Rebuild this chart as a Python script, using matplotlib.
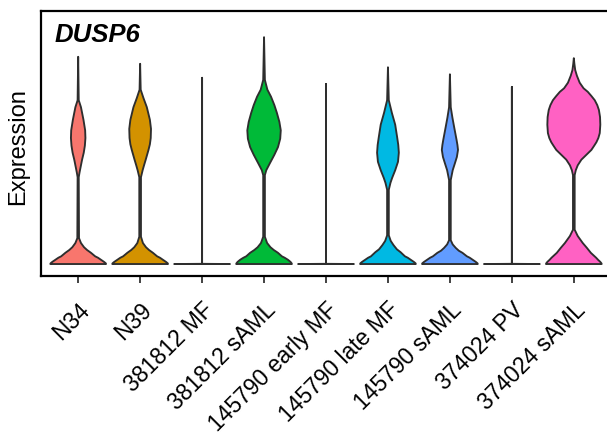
import matplotlib
matplotlib.use('Agg')
import matplotlib.pyplot as plt

plt.rcParams['font.family'] = ['Liberation Sans', 'DejaVu Sans']

samples = ['N34', 'N39', '381812 MF', '381812 sAML', '145790 early MF',
           '145790 late MF', '145790 sAML', '374024 PV', '374024 sAML']
colors = ['#F8766D', '#D39200', '#93AA00', '#00BA38', '#00C19F',
          '#00B9E3', '#619CFF', '#DB72FB', '#FF61C3']

# density profiles per sample: expression level (top -> 0) and density scaled to max 1
expr_n34 = [2.96, 2.34, 2.24, 2.14, 2.06, 1.91, 1.80, 1.69, 1.59, 1.49, 1.39, 1.31, 1.24,
            0.37, 0.30, 0.24, 0.20, 0.16, 0.11, 0.09, 0.06, 0.03, 0.01, 0.0]
dens_n34 = [0.0, 0.02, 0.10, 0.15, 0.19, 0.25, 0.26, 0.24, 0.20, 0.14, 0.09, 0.05, 0.02,
            0.03, 0.10, 0.21, 0.32, 0.46, 0.61, 0.71, 0.82, 0.93, 0.99, 1.0]

expr_n39 = [2.86, 2.49, 2.37, 2.24, 2.06, 1.93, 1.80, 1.71, 1.63, 1.49, 1.41, 1.34, 1.24,
            0.39, 0.30, 0.24, 0.20, 0.16, 0.11, 0.09, 0.06, 0.03, 0.01, 0.0]
dens_n39 = [0.0, 0.02, 0.12, 0.24, 0.35, 0.39, 0.38, 0.35, 0.30, 0.20, 0.14, 0.09, 0.03,
            0.03, 0.10, 0.21, 0.32, 0.46, 0.61, 0.71, 0.82, 0.93, 0.99, 1.0]

expr_381812_mf = [2.66, 0.003, 0.0]
dens_381812_mf = [0.0, 0.0, 1.0]

expr_381812_saml = [3.24, 2.63, 2.49, 2.39, 2.27, 2.16, 2.03, 1.91, 1.79, 1.67, 1.56, 1.44, 1.34, 1.27,
                    0.39, 0.30, 0.24, 0.20, 0.16, 0.11, 0.09, 0.06, 0.03, 0.01, 0.0]
dens_381812_saml = [0.0, 0.03, 0.12, 0.25, 0.37, 0.46, 0.55, 0.60, 0.58, 0.50, 0.37, 0.21, 0.08, 0.03,
                    0.03, 0.11, 0.23, 0.35, 0.50, 0.64, 0.74, 0.86, 0.95, 0.99, 1.0]

expr_145790_early = [2.57, 0.003, 0.0]
dens_145790_early = [0.0, 0.0, 1.0]

expr_145790_late = [2.81, 2.34, 2.16, 1.99, 1.81, 1.70, 1.59, 1.46, 1.34, 1.23, 1.16, 1.06,
                    0.41, 0.33, 0.27, 0.21, 0.17, 0.11, 0.09, 0.06, 0.03, 0.01, 0.0]
dens_145790_late = [0.0, 0.03, 0.14, 0.26, 0.33, 0.37, 0.39, 0.36, 0.26, 0.15, 0.09, 0.03,
                    0.03, 0.10, 0.20, 0.32, 0.45, 0.61, 0.71, 0.82, 0.93, 0.99, 1.0]

expr_145790_saml = [2.71, 2.24, 2.09, 1.96, 1.77, 1.70, 1.63, 1.53, 1.44, 1.34, 1.24, 1.20,
                    0.34, 0.28, 0.23, 0.19, 0.16, 0.11, 0.09, 0.06, 0.03, 0.01, 0.0]
dens_145790_saml = [0.0, 0.03, 0.09, 0.15, 0.24, 0.27, 0.29, 0.25, 0.18, 0.10, 0.05, 0.03,
                    0.03, 0.10, 0.21, 0.32, 0.45, 0.61, 0.71, 0.82, 0.93, 0.99, 1.0]

expr_374024_pv = [2.53, 0.003, 0.0]
dens_374024_pv = [0.0, 0.0, 1.0]

expr_374024_saml = [2.94, 2.86, 2.77, 2.69, 2.59, 2.51, 2.46, 2.40, 2.34, 2.27, 2.20, 2.10,
                    1.99, 1.87, 1.80, 1.74, 1.69, 1.63, 1.56, 1.49, 1.41, 1.34, 1.27,
                    0.49, 0.40, 0.30, 0.23, 0.16, 0.09, 0.06, 0.03, 0.01, 0.0]
dens_374024_saml = [0.0, 0.02, 0.05, 0.11, 0.21, 0.35, 0.50, 0.63, 0.75, 0.84, 0.90, 0.94,
                    0.95, 0.93, 0.88, 0.81, 0.73, 0.63, 0.45, 0.27, 0.14, 0.07, 0.03,
                    0.03, 0.14, 0.32, 0.47, 0.61, 0.80, 0.87, 0.95, 0.99, 1.0]

profiles = [
    (expr_n34, dens_n34),
    (expr_n39, dens_n39),
    (expr_381812_mf, dens_381812_mf),
    (expr_381812_saml, dens_381812_saml),
    (expr_145790_early, dens_145790_early),
    (expr_145790_late, dens_145790_late),
    (expr_145790_saml, dens_145790_saml),
    (expr_374024_pv, dens_374024_pv),
    (expr_374024_saml, dens_374024_saml),
]

fig = plt.figure(figsize=(6.07, 4.40), dpi=100)
ax = fig.add_axes([41 / 607, 164 / 440, 570 / 607, 265 / 440])

half = 0.45
for i, ((ys, ds), col) in enumerate(zip(profiles, colors)):
    right = [i + half * d for d in ds]
    left = [i - half * d for d in ds]
    xs = right + left[::-1]
    yy = ys + ys[::-1]
    ax.fill(xs, yy, facecolor=col, edgecolor='#2e2e2e', linewidth=1.35,
            joinstyle='round')

ax.set_xlim(-0.6, 8.6)
ax.set_ylim(-0.171, 3.614)

ax.set_xticks(range(len(samples)))
ax.set_xticklabels(samples, rotation=45, ha='right', va='top',
                   rotation_mode='anchor', fontsize=16.5)
ax.set_yticks([])
ax.tick_params(axis='x', length=5, width=1.3, color='#333333', pad=11,
               labelcolor='black')

for s in ax.spines.values():
    s.set_linewidth(1.6)
    s.set_color('black')

ax.set_ylabel('Expression', fontsize=17)
ax.yaxis.set_label_coords(-0.02, 0.49)

ax.text(0.024, 0.883, 'DUSP6', transform=ax.transAxes, fontsize=18.5,
        fontweight='bold', fontstyle='italic', va='baseline', ha='left')

fig.savefig('out.png', dpi=100)
